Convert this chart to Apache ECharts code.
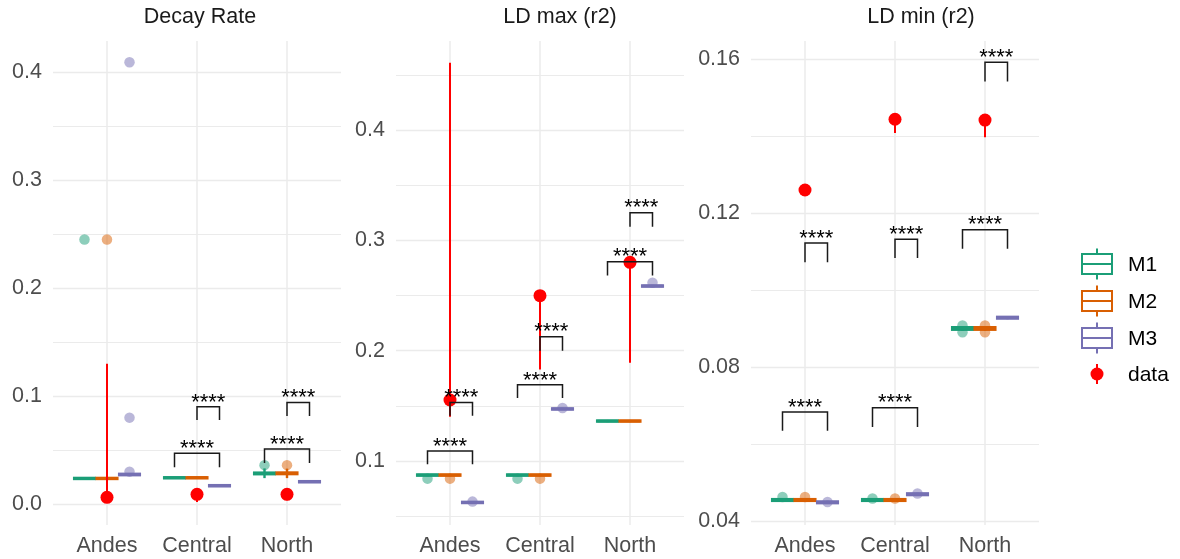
<!DOCTYPE html>
<html>
<head>
<meta charset="utf-8">
<script src="https://cdn.jsdelivr.net/npm/echarts@6/dist/echarts.min.js"></script>
<style>
  html, body { margin: 0; padding: 0; background: #ffffff; }
  #chart { width: 1180px; height: 559px; }
</style>
</head>
<body>
<div id="chart"></div>
<script>
// ---------- shared categories / groups ----------
const regions = ['Andes', 'Central', 'North'];
const models = ['M1', 'M2', 'M3'];
const modelColors = ['#1B9E77', '#D95F02', '#7570B3'];
const dataColor = '#FF0000';
const sigLabel = '****';

// ---------- Decay Rate ----------
// box stats per region: [lower whisker, Q1, median, Q3, upper whisker]
const decayM1 = [[0.0228, 0.0233, 0.0238, 0.0241, 0.0246], [0.0234, 0.0239, 0.0244, 0.0247, 0.0252], [0.0240, 0.0277, 0.0284, 0.0290, 0.0330]];
const decayM2 = [[0.0228, 0.0233, 0.0238, 0.0241, 0.0246], [0.0234, 0.0239, 0.0244, 0.0247, 0.0252], [0.0240, 0.0278, 0.0285, 0.0291, 0.0328]];
const decayM3 = [[0.0262, 0.0268, 0.0275, 0.0279, 0.0286], [0.0160, 0.0165, 0.0170, 0.0174, 0.0180], [0.0197, 0.0202, 0.0207, 0.0211, 0.0217]];
// outlying model runs: [region index, model index, value]
const decayOutliers = [[0, 0, 0.245], [0, 1, 0.245], [0, 2, 0.409], [0, 2, 0.080], [0, 2, 0.030], [2, 0, 0.036], [2, 1, 0.036]];
// observed data per region: [value, low, high]
const decayObserved = [[0.0062, 0.004, 0.130], [0.0090, 0.002, 0.010], [0.0090, 0.0035, 0.010]];
// comparisons: [region, from model, to model, bracket top, tip end]
const decaySig = [[1, 0, 2, 0.047, 0.034], [1, 1, 2, 0.090, 0.0778], [2, 0, 2, 0.051, 0.038], [2, 1, 2, 0.094, 0.0815]];
const decayRange = [-0.0194, 0.4287];
const decayLabels = [0, 0.1, 0.2, 0.3, 0.4];
const decayMinor = [0.05, 0.15, 0.25, 0.35];

// ---------- LD max (r2) ----------
const ldMaxM1 = [[0.0862, 0.0868, 0.0873, 0.0877, 0.0883], [0.0862, 0.0868, 0.0873, 0.0877, 0.0883], [0.1352, 0.1358, 0.1362, 0.1366, 0.1372]];
const ldMaxM2 = [[0.0862, 0.0868, 0.0873, 0.0877, 0.0883], [0.0862, 0.0868, 0.0873, 0.0877, 0.0883], [0.1352, 0.1358, 0.1362, 0.1366, 0.1372]];
const ldMaxM3 = [[0.0615, 0.0620, 0.0625, 0.0629, 0.0635], [0.1462, 0.1467, 0.1472, 0.1476, 0.1481], [0.2576, 0.2581, 0.2586, 0.2590, 0.2596]];
const ldMaxOutliers = [[0, 0, 0.084], [0, 1, 0.084], [0, 2, 0.0632], [1, 0, 0.084], [1, 1, 0.084], [1, 2, 0.148], [2, 2, 0.2616]];
const ldMaxObserved = [[0.1553, 0.140, 0.461], [0.2498, 0.183, 0.2498], [0.2800, 0.189, 0.2800]];
const ldMaxSig = [[0, 0, 2, 0.109, 0.097], [0, 1, 2, 0.153, 0.141], [1, 0, 2, 0.169, 0.157], [1, 1, 2, 0.2127, 0.200], [2, 0, 2, 0.2806, 0.268], [2, 1, 2, 0.325, 0.3123]];
const ldMaxRange = [0.042, 0.4806];
const ldMaxLabels = [0.1, 0.2, 0.3, 0.4];
const ldMaxMinor = [0.05, 0.15, 0.25, 0.35, 0.45];

// ---------- LD min (r2) ----------
const ldMinM1 = [[0.0450, 0.0452, 0.0454, 0.0456, 0.0458], [0.0450, 0.0452, 0.0454, 0.0456, 0.0458], [0.0894, 0.0897, 0.0900, 0.0903, 0.0906]];
const ldMinM2 = [[0.0450, 0.0452, 0.0454, 0.0456, 0.0458], [0.0450, 0.0452, 0.0454, 0.0456, 0.0458], [0.0894, 0.0897, 0.0900, 0.0903, 0.0906]];
const ldMinM3 = [[0.0444, 0.0446, 0.0448, 0.0450, 0.0452], [0.0465, 0.0467, 0.0469, 0.0471, 0.0473], [0.0924, 0.0926, 0.0928, 0.0930, 0.0932]];
const ldMinOutliers = [[0, 0, 0.0462], [0, 1, 0.0462], [0, 2, 0.0449], [1, 0, 0.0458], [1, 1, 0.0458], [1, 2, 0.0471], [2, 0, 0.0908], [2, 0, 0.0890], [2, 1, 0.0908], [2, 1, 0.0890]];
const ldMinObserved = [[0.1260, 0.1256, 0.1262], [0.1444, 0.1408, 0.1446], [0.1442, 0.1397, 0.1444]];
const ldMinSig = [[0, 0, 2, 0.0683, 0.0634], [0, 1, 2, 0.1122, 0.1072], [1, 0, 2, 0.0694, 0.0644], [1, 1, 2, 0.1132, 0.1083], [2, 0, 2, 0.1157, 0.1107], [2, 1, 2, 0.1592, 0.1542]];
const ldMinRange = [0.0389, 0.16475];
const ldMinLabels = [0.04, 0.08, 0.12, 0.16];
const ldMinMinor = [0.06, 0.10, 0.14];

const panels = [
  { title: 'Decay Rate', boxes: [decayM1, decayM2, decayM3], outliers: decayOutliers, observed: decayObserved, sig: decaySig, range: decayRange, labels: decayLabels, minor: decayMinor, digits: 1 },
  { title: 'LD max (r2)', boxes: [ldMaxM1, ldMaxM2, ldMaxM3], outliers: ldMaxOutliers, observed: ldMaxObserved, sig: ldMaxSig, range: ldMaxRange, labels: ldMaxLabels, minor: ldMaxMinor, digits: 1 },
  { title: 'LD min (r2)', boxes: [ldMinM1, ldMinM2, ldMinM3], outliers: ldMinOutliers, observed: ldMinObserved, sig: ldMinSig, range: ldMinRange, labels: ldMinLabels, minor: ldMinMinor, digits: 2 }
];

// ---------- layout ----------
const FONT = '"Liberation Sans", Arial, Helvetica, sans-serif';
const panelLeft = [53, 396, 751];
const panelTop = 41, panelWidth = 288, panelHeight = 484;
const titleCenters = [200, 560, 921];
const DODGE = 0.25;            // offset between models within a region (x units)
const GRID_COLOR = '#EBEBEB';
const textGray = '#4D4D4D';

// x position of a model inside a region on the continuous x scale (regions at 1,2,3)
const xPos = (r, m) => r + 1 + (m - 1) * DODGE;

function boxRenderer(color) {
  return function (params, api) {
    const x = api.value(0);
    const lo = api.coord([x, api.value(1)]);
    const q1 = api.coord([x, api.value(2)]);
    const med = api.coord([x, api.value(3)]);
    const q3 = api.coord([x, api.value(4)]);
    const hi = api.coord([x, api.value(5)]);
    const w = api.size([DODGE, 0])[0] - 2;
    const cx = lo[0];
    const line = { stroke: color, lineWidth: 2.4, fill: null };
    return {
      type: 'group',
      children: [
        { type: 'line', shape: { x1: cx, y1: hi[1], x2: cx, y2: q3[1] }, style: line },
        { type: 'line', shape: { x1: cx, y1: q1[1], x2: cx, y2: lo[1] }, style: line },
        { type: 'rect', shape: { x: cx - w / 2, y: q3[1], width: w, height: Math.max(q1[1] - q3[1], 0.8) },
          style: { fill: '#ffffff', stroke: color, lineWidth: 2.6 } },
        { type: 'line', shape: { x1: cx - w / 2, y1: med[1], x2: cx + w / 2, y2: med[1] }, style: { stroke: color, lineWidth: 2.6 } }
      ]
    };
  };
}

function observedRenderer(params, api) {
  const x = api.value(0);
  const p = api.coord([x, api.value(1)]);
  const lo = api.coord([x, api.value(2)]);
  const hi = api.coord([x, api.value(3)]);
  return {
    type: 'group',
    children: [
      { type: 'line', shape: { x1: p[0], y1: hi[1], x2: p[0], y2: lo[1] }, style: { stroke: dataColor, lineWidth: 2 } },
      { type: 'circle', shape: { cx: p[0], cy: p[1], r: 6.5 }, style: { fill: dataColor } }
    ]
  };
}

function sigRenderer(params, api) {
  const x1 = api.value(0), x2 = api.value(1);
  const a = api.coord([x1, api.value(3)]);
  const b = api.coord([x1, api.value(2)]);
  const c = api.coord([x2, api.value(2)]);
  const d = api.coord([x2, api.value(3)]);
  return {
    type: 'group',
    children: [
      { type: 'polyline', shape: { points: [a, b, c, d] }, style: { stroke: '#1a1a1a', lineWidth: 1.5, fill: null } },
      { type: 'text', x: (b[0] + c[0]) / 2, y: b[1] - 4.3,
        style: { text: sigLabel, fill: '#000000', font: '22px ' + FONT, textAlign: 'center', textVerticalAlign: 'middle' } }
    ]
  };
}

const grid = [], xAxis = [], yAxis = [], series = [], graphic = [];

panels.forEach((pn, i) => {
  grid.push({ left: panelLeft[i], top: panelTop, width: panelWidth, height: panelHeight, containLabel: false });

  xAxis.push({
    gridIndex: i, type: 'value', min: 0.4, max: 3.6,
    axisLine: { show: false },
    axisTick: { show: false, customValues: [1, 2, 3] },
    axisLabel: { customValues: [1, 2, 3], formatter: v => regions[Math.round(v) - 1],
      color: textGray, fontSize: 21.5, fontFamily: FONT, margin: 10 },
    splitLine: { show: true, lineStyle: { color: GRID_COLOR, width: 1.5 } }
  });

  // major grid + labels
  yAxis.push({
    gridIndex: i, type: 'value', min: pn.range[0], max: pn.range[1], position: 'left',
    axisLine: { show: false },
    axisTick: { show: false, customValues: pn.labels },
    axisLabel: { customValues: pn.labels, formatter: v => v.toFixed(pn.digits),
      color: textGray, fontSize: 21.5, fontFamily: FONT, margin: 11 },
    splitLine: { show: true, lineStyle: { color: GRID_COLOR, width: 1.4 } }
  });
  // minor grid
  yAxis.push({
    gridIndex: i, type: 'value', min: pn.range[0], max: pn.range[1], position: 'right',
    axisLine: { show: false },
    axisTick: { show: false, customValues: pn.minor },
    axisLabel: { show: false },
    splitLine: { show: true, lineStyle: { color: GRID_COLOR, width: 1.1 } }
  });

  const yIdx = 2 * i;

  // outlying runs (semi-transparent points)
  models.forEach((m, mi) => {
    series.push({
      type: 'scatter', name: m, xAxisIndex: i, yAxisIndex: yIdx, z: 2, silent: true,
      symbol: 'circle', symbolSize: 10.5,
      itemStyle: { color: modelColors[mi], opacity: 0.5 },
      data: pn.outliers.filter(o => o[1] === mi).map(o => [xPos(o[0], o[1]), o[2]])
    });
  });

  // boxes
  models.forEach((m, mi) => {
    series.push({
      type: 'custom', name: m, xAxisIndex: i, yAxisIndex: yIdx, z: 3, silent: true,
      renderItem: boxRenderer(modelColors[mi]),
      encode: { x: 0, y: [1, 2, 3, 4, 5] },
      data: pn.boxes[mi].map((s, r) => [xPos(r, mi), s[0], s[1], s[2], s[3], s[4]])
    });
  });

  // observed data with range
  series.push({
    type: 'custom', name: 'data', xAxisIndex: i, yAxisIndex: yIdx, z: 4, silent: true,
    renderItem: observedRenderer,
    encode: { x: 0, y: [1, 2, 3] },
    data: pn.observed.map((o, r) => [r + 1, o[0], o[1], o[2]])
  });

  // significance brackets
  series.push({
    type: 'custom', name: 'sig', xAxisIndex: i, yAxisIndex: yIdx, z: 5, silent: true,
    renderItem: sigRenderer,
    encode: { x: [0, 1], y: [2, 3] },
    data: pn.sig.map(s => [xPos(s[0], s[1]), xPos(s[0], s[2]), s[3], s[4]])
  });

  graphic.push({
    type: 'text', x: titleCenters[i], y: 17,
    style: { text: pn.title, fill: '#1A1A1A', font: '21.5px ' + FONT, textAlign: 'center', textVerticalAlign: 'middle' }
  });
});

// ---------- legend ----------
const legendX = 1097, legendTextX = 1128;
const legendRows = [264, 301, 338, 375];
models.forEach((m, mi) => {
  const cy = legendRows[mi];
  const c = modelColors[mi];
  graphic.push({
    type: 'group', children: [
      { type: 'line', shape: { x1: legendX, y1: cy - 15.5, x2: legendX, y2: cy - 10 }, style: { stroke: c, lineWidth: 2 } },
      { type: 'line', shape: { x1: legendX, y1: cy + 10, x2: legendX, y2: cy + 15.5 }, style: { stroke: c, lineWidth: 2 } },
      { type: 'rect', shape: { x: legendX - 15, y: cy - 10, width: 30, height: 20 }, style: { fill: '#fff', stroke: c, lineWidth: 2 } },
      { type: 'line', shape: { x1: legendX - 15, y1: cy, x2: legendX + 15, y2: cy }, style: { stroke: c, lineWidth: 2 } },
      { type: 'text', x: legendTextX, y: cy + 1, style: { text: m, fill: '#000', font: '21px ' + FONT, textVerticalAlign: 'middle' } }
    ]
  });
});
graphic.push({
  type: 'group', children: [
    { type: 'line', shape: { x1: legendX, y1: legendRows[3] - 11, x2: legendX, y2: legendRows[3] + 9 }, style: { stroke: dataColor, lineWidth: 2 } },
    { type: 'circle', shape: { cx: legendX, cy: legendRows[3] - 1, r: 6.5 }, style: { fill: dataColor } },
    { type: 'text', x: legendTextX, y: legendRows[3], style: { text: 'data', fill: '#000', font: '21px ' + FONT, textVerticalAlign: 'middle' } }
  ]
});

const chart = echarts.init(document.getElementById('chart'), null, { renderer: 'canvas' });
chart.setOption({
  backgroundColor: '#ffffff',
  animation: false,
  grid, xAxis, yAxis, series, graphic
});
</script>
</body>
</html>
